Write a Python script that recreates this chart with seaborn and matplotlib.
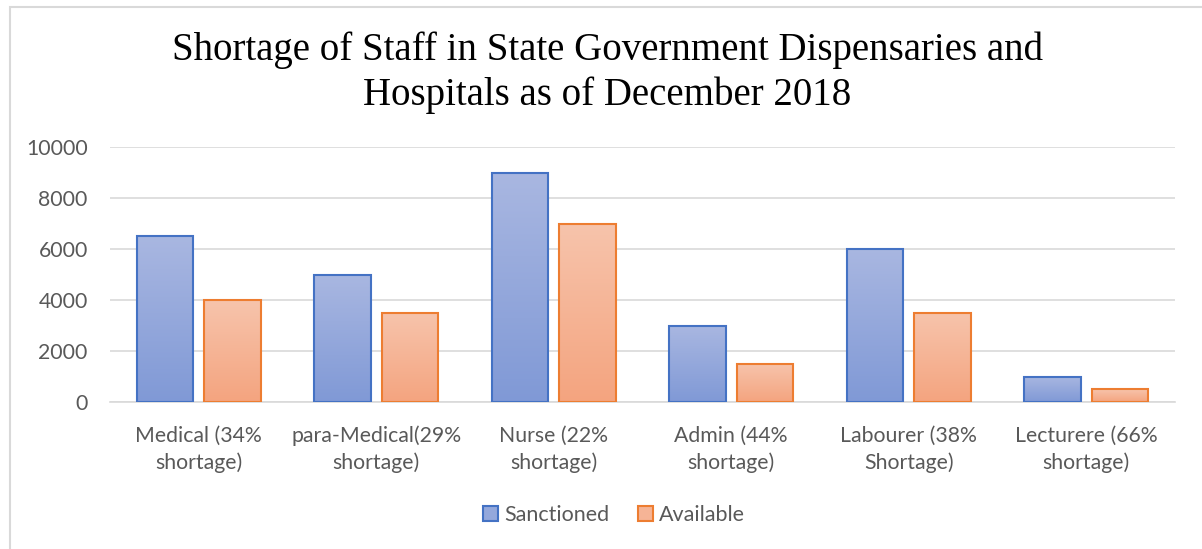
import numpy as np
import pandas as pd
import matplotlib
matplotlib.use("Agg")
import matplotlib.pyplot as plt
import seaborn as sns
from matplotlib.patches import Patch, Rectangle
from matplotlib.colors import LinearSegmentedColormap

categories = ["Medical (34%\nshortage)", "para-Medical(29%\nshortage)", "Nurse (22%\nshortage)",
              "Admin (44%\nshortage)", "Labourer (38%\nShortage)", "Lecturere (66%\nshortage)"]
sanctioned = [6500, 5000, 9000, 3000, 6000, 1000]
available = [4000, 3500, 7000, 1500, 3500, 500]
series = ["Sanctioned", "Available"]
yticks = [0, 2000, 4000, 6000, 8000, 10000]

df = pd.DataFrame({
    "cat": categories * 2,
    "val": sanctioned + available,
    "series": [series[0]] * len(categories) + [series[1]] * len(categories),
})

edge_cols = {"Sanctioned": "#4472C4", "Available": "#ED7D31"}
grad = {"Sanctioned": ("#A9B7E1", "#8099D6"), "Available": ("#F7C4AC", "#F4A47F")}

sns.set_theme(style="white")
plt.rcParams["font.family"] = ["Lato", "DejaVu Sans"]

fig = plt.figure(figsize=(12.02, 5.49), dpi=100)
ax = fig.add_axes([110/1202, 1-402/549, (1175-110)/1202, (402-147)/549])

sns.barplot(data=df, x="cat", y="val", hue="series", order=categories, hue_order=series,
            palette=edge_cols, width=0.76, gap=0.168, ax=ax, legend=False, zorder=3)

for cont, s in zip(ax.containers, series):
    cmap = LinearSegmentedColormap.from_list(s, [grad[s][1], grad[s][0]])
    for p in cont.patches:
        x0, y0 = p.get_x(), p.get_y()
        w, h = p.get_width(), p.get_height()
        img = ax.imshow(np.linspace(0, 1, 256).reshape(-1, 1), cmap=cmap, origin="lower",
                        extent=[x0, x0 + w, y0, y0 + h], aspect="auto", zorder=3)
        img.set_clip_path(p)
        p.set_facecolor("none")
        p.set_edgecolor(edge_cols[s])
        p.set_linewidth(1.5)
        p.set_zorder(4)

ax.set_xlim(-0.5, len(categories) - 0.5)
ax.set_ylim(0, 10000)
ax.set_yticks(yticks)
ax.set_yticklabels([str(t) for t in yticks])
ax.yaxis.grid(True, color="#D9D9D9", linewidth=1.2, zorder=0)
ax.set_axisbelow(True)
for sp in ["top", "right", "left"]:
    ax.spines[sp].set_visible(False)
ax.spines["bottom"].set_color("#D9D9D9")
ax.spines["bottom"].set_linewidth(1.2)
ax.tick_params(axis="y", length=0, pad=16, labelsize=15.3, labelcolor="#595959")
ax.tick_params(axis="x", length=0, pad=17, labelsize=15.3, labelcolor="#595959")
for lbl in ax.get_xticklabels():
    lbl.set_linespacing(1.4)
ax.set_xlabel("")
ax.set_ylabel("")

fig.text(0.505, 1 - 72.5/549, "Shortage of Staff in State Government Dispensaries and\nHospitals as of December 2018",
         ha="center", va="center", fontsize=28, family="Liberation Serif", color="black", linespacing=1.25)

handles = [Patch(facecolor=np.mean([matplotlib.colors.to_rgb(c) for c in grad[s]], axis=0),
                 edgecolor=edge_cols[s], linewidth=1.5, label=s) for s in series]
fig.legend(handles=handles, loc="center", bbox_to_anchor=(614/1202, 1 - 515/549), ncol=2, frameon=False,
           fontsize=15.5, labelcolor="#595959", handlelength=0.7, handleheight=0.7,
           handletextpad=0.3, columnspacing=1.3)

fig.add_artist(Rectangle((10/1202, -0.1), 1.2, 1 - 7/549 + 0.1, transform=fig.transFigure,
                         fill=False, edgecolor="#D9D9D9", linewidth=1.5))

fig.savefig("out.png", dpi=100)
